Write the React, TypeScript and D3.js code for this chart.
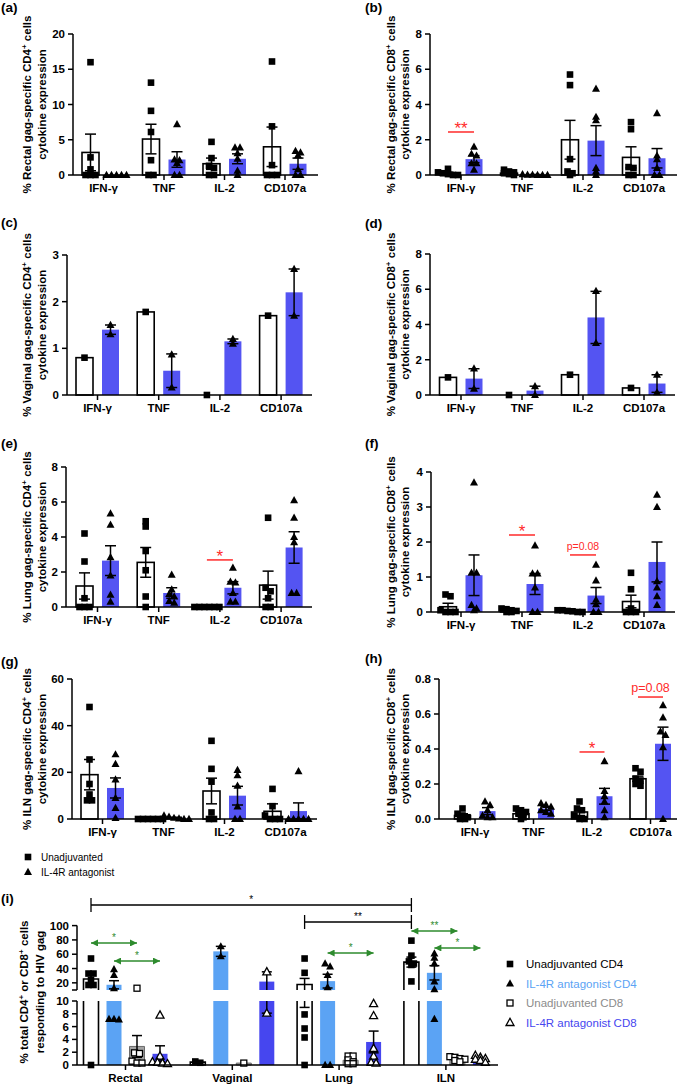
import React from "react";
import * as d3 from "d3";

// ---------------- categories ----------------
const cytokines = ["IFN-γ", "TNF", "IL-2", "CD107a"];
const tissues = ["Rectal", "Vaginal", "Lung", "ILN"];

// ---------------- data: panels (a)-(h) ----------------
// each: mean, sem and individual animals per cytokine
const rectalCD4Unadj = { mean: [3.2, 5.1, 1.6, 4.0], sem: [2.6, 2.1, 0.8, 2.8], pts: [[16, 2.5, 0.8, 0, 0, 0], [13.1, 9.1, 6.1, 2.1, 0, 0], [4.7, 2.4, 1.3, 1.0, 0, 0], [16.1, 6.9, 1.4, 0, 0, 0]] };
const rectalCD4Il4r = { mean: [0, 2.2, 2.3, 1.6], sem: [0, 1.1, 0.7, 0.8], pts: [[0, 0, 0, 0, 0], [7.2, 2.2, 2.1, 1.7, 0, 0], [3.9, 3.9, 3.1, 2.3, 0.6, 0], [3.4, 3.2, 2.8, 0.8, 0, 0]] };

const rectalCD8Unadj = { mean: [0.1, 0.1, 2.0, 1.0], sem: [0.06, 0.05, 1.1, 0.6], pts: [[0.35, 0.15, 0.1, 0.05, 0, 0], [0.3, 0.2, 0.15, 0.1, 0.05, 0], [5.7, 5.1, 0.9, 0.2, 0.1, 0], [3.0, 2.6, 0.45, 0.4, 0, 0]] };
const rectalCD8Il4r = { mean: [0.9, 0.02, 1.95, 0.95], sem: [0.2, 0.01, 0.85, 0.55], pts: [[1.6, 1.2, 1.1, 0.66, 0.66, 0.3], [0.04, 0.02, 0.02, 0, 0, 0], [4.9, 3.3, 3.1, 0.4, 0.2, 0], [3.5, 1.1, 0.9, 0.4, 0, 0]] };

const vaginalCD4Unadj = { mean: [0.8, 1.78, 0, 1.7], sem: [0, 0, 0, 0], pts: [[0.8], [1.78], [0], [1.7]] };
const vaginalCD4Il4r = { mean: [1.4, 0.52, 1.15, 2.2], sem: [0.1, 0.36, 0.05, 0.5], pts: [[1.5, 1.3], [0.87, 0.16], [1.2, 1.1], [2.7, 1.7]] };

const vaginalCD8Unadj = { mean: [1.0, 0, 1.15, 0.4], sem: [0, 0, 0, 0], pts: [[1.0], [0], [1.15], [0.4]] };
const vaginalCD8Il4r = { mean: [0.93, 0.25, 4.4, 0.65], sem: [0.56, 0.25, 1.48, 0.5], pts: [[1.5, 0.36], [0.5, 0], [5.9, 2.95], [1.15, 0.15]] };

const lungCD4Unadj = { mean: [1.2, 2.55, 0, 1.25], sem: [0.75, 0.85, 0, 0.8], pts: [[4.2, 2.6, 0.5, 0, 0, 0], [4.9, 4.6, 3.2, 2.1, 0.6, 0], [0, 0, 0, 0, 0, 0], [5.1, 1.1, 0.9, 0.5, 0, 0]] };
const lungCD4Il4r = { mean: [2.65, 0.8, 1.1, 3.4], sem: [0.85, 0.3, 0.35, 0.9], pts: [[5.35, 4.7, 2.85, 1.8, 0.7, 0.3], [1.85, 1.0, 0.75, 0.6, 0.35, 0.25], [2.25, 1.45, 1.4, 0.8, 0.3, 0.3], [6.1, 5.1, 4.0, 3.7, 0.8, 0.8]] };

const lungCD8Unadj = { mean: [0.15, 0.05, 0.03, 0.3], sem: [0.1, 0.02, 0.01, 0.18], pts: [[0.5, 0.45, 0.05, 0, 0, 0], [0.1, 0.08, 0.05, 0.03, 0, 0], [0.05, 0.05, 0.03, 0.02, 0, 0], [1.12, 0.65, 0.1, 0, 0, 0]] };
const lungCD8Il4r = { mean: [1.05, 0.8, 0.47, 1.43], sem: [0.58, 0.3, 0.23, 0.57], pts: [[3.7, 1.12, 1.12, 0.2, 0.1, 0.05], [1.9, 1.1, 1.1, 0.7, 0, 0], [1.35, 0.9, 0.35, 0.22, 0, 0], [3.35, 3.0, 0.88, 0.7, 0.45, 0.2]] };

const ilnCD4Unadj = { mean: [19, 0, 12, 3.3], sem: [6.5, 0, 5.5, 3.2], pts: [[48, 25.5, 15, 10.5, 8, 8], [0, 0, 0, 0, 0, 0], [33.5, 21.5, 16, 2.8, 0, 0], [12.9, 5.5, 1.5, 0, 0, 0]] };
const ilnCD4Il4r = { mean: [13.3, 0.5, 10, 3.4], sem: [4.3, 0.25, 4, 3.5], pts: [[27.7, 23.6, 16.9, 9, 4.7, 0.4], [1.5, 1.0, 0.5, 0.2, 0, 0], [21, 18.7, 14.3, 5.4, 0, 0], [20.5, 0, 0, 0, 0, 0]] };

const ilnCD8Unadj = { mean: [0.02, 0.03, 0.04, 0.23], sem: [0.01, 0.01, 0.02, 0.015], pts: [[0.06, 0.03, 0.02, 0.01, 0, 0], [0.06, 0.05, 0.04, 0.03, 0.01, 0], [0.1, 0.06, 0.05, 0.02, 0, 0], [0.29, 0.27, 0.23, 0.22, 0.2, 0.19]] };
const ilnCD8Il4r = { mean: [0.045, 0.06, 0.13, 0.43], sem: [0.02, 0.01, 0.045, 0.095], pts: [[0.1, 0.08, 0.05, 0.02, 0.01, 0.01], [0.09, 0.08, 0.07, 0.05, 0.04, 0.03], [0.33, 0.16, 0.13, 0.1, 0.05, 0.01], [0.65, 0.58, 0.5, 0.48, 0.41, 0.0]] };

// significance annotations (category, level of the line in data units, label)
const sigB = [{ cat: "IFN-γ", level: 2.44, label: "**" }];
const sigE = [{ cat: "IL-2", level: 2.69, label: "*" }];
const sigF = [{ cat: "TNF", level: 2.2, label: "*" }, { cat: "IL-2", level: 1.63, label: "p=0.08" }];
const sigH = [{ cat: "IL-2", level: 0.383, label: "*" }, { cat: "CD107a", level: 0.697, label: "p=0.08" }];

// ---------------- data: panel (i) ----------------
const groupsI = ["Unadjuvanted CD4", "IL-4R antagonist CD4", "Unadjuvanted CD8", "IL-4R antagonist CD8"];
const iUnadjCD4 = { mean: [25.4, 0.45, 17.6, 49], sem: [7, 0.1, 8.6, 7], pts: [[54, 33, 33, 24, 17, 17, 0], [0.55, 0.35], [54, 34, 7.9, 5.7, 4.3, 0], [79, 58, 50, 47, 45, 22]] };
const iIl4rCD4 = { mean: [17.3, 64, 22.4, 34], sem: [5.7, 7, 9.6, 10], pts: [[39, 31, 12.5, 7.2, 7.1, 7.2], [71, 57], [47, 43, 31, 14, 0, 0], [61, 55, 47, 22, 11, 7.2]] };
const iUnadjCD8 = { mean: [2.9, 0.3, 0.75, 1.0], sem: [1.7, 0, 0.25, 0.15], pts: [[12.5, 1.9, 1.8, 0.6, 0.3, 0.3], [0.3], [1.4, 1.4, 0.8, 0.5, 0.2, 0.2], [1.3, 1.2, 1.0, 0.9, 0.7, 0.5]] };
const iIl4rCD8 = { mean: [1.75, 21.75, 3.6, 1.0], sem: [1.25, 13.65, 1.7, 0.15], pts: [[7.8, 1.4, 0.5, 0.4, 0.3, 0.2], [35.4, 8.1], [9.6, 7.7, 2.6, 1.4, 0.4, 0.3], [1.5, 1.2, 1.0, 0.9, 0.7, 0.4]] };
const yTicksITop = [20, 40, 60, 80, 100];
const yTicksIBottom = [0, 2, 4, 6, 8, 10];
const bracketsI = [
  { from: ["Rectal", 0], to: ["ILN", 0], level: 128.8, label: "*" },
  { from: ["Lung", 0], to: ["ILN", 0], level: 105, label: "**" },
];
const arrowsI = [
  { from: ["ILN", 0], to: ["ILN", 2], level: 92.4, label: "**" },
  { from: ["ILN", 1], to: ["ILN", 3], level: 68.7, label: "*" },
  { from: ["Rectal", 0], to: ["Rectal", 2], level: 75.7, label: "*" },
  { from: ["Rectal", 1], to: ["Rectal", 3], level: 50.5, label: "*" },
  { from: ["Lung", 1], to: ["Lung", 3], level: 61.7, label: "*" },
];

// ---------------- styles ----------------
const FONT = "Arial, 'Liberation Sans', Helvetica, sans-serif";
const BLUE = "#5454f2";
const LIGHTBLUE = "#5ba3f4";
const DARKBLUE = "#4646ef";
const GREY = "#a3a3a3";
const RED = "#ff2a2a";
const GREEN = "#2e8b2e";
const TITLE_SIZE = 11.5;

type Series = { mean: number[]; sem: number[]; pts: number[][] };
type Sig = { cat: string; level: number; label: string };

type PanelCfg = {
  label: string; lx: number; ly: number;
  tissue: string; cell: string;
  unadj: Series; il4r: Series;
  max: number; ticks: number[]; fmt?: (v: number) => string;
  x0: number; x1: number; c0: number; step: number; off: number; bw: number;
  yTop: number; y0: number; t1: number; t2: number;
  sigs: Sig[]; pFont?: number;
};

const panels: PanelCfg[] = [
  { label: "(a)", lx: 1, ly: 12, tissue: "Rectal", cell: "CD4", unadj: rectalCD4Unadj, il4r: rectalCD4Il4r, max: 20, ticks: [0, 5, 10, 15, 20], x0: 73, x1: 318, c0: 103.5, step: 60.5, off: 13, bw: 17, yTop: 34, y0: 175, t1: 27, t2: 42, sigs: [] },
  { label: "(b)", lx: 365, ly: 12, tissue: "Rectal", cell: "CD8", unadj: rectalCD8Unadj, il4r: rectalCD8Il4r, max: 8, ticks: [0, 2, 4, 6, 8], x0: 430, x1: 677, c0: 461, step: 61, off: 13, bw: 17, yTop: 34, y0: 175, t1: 391, t2: 405, sigs: sigB },
  { label: "(c)", lx: 1, ly: 227, tissue: "Vaginal", cell: "CD4", unadj: vaginalCD4Unadj, il4r: vaginalCD4Il4r, max: 3, ticks: [0, 1, 2, 3], x0: 67, x1: 312, c0: 97.5, step: 61.2, off: 13, bw: 17, yTop: 255, y0: 395, t1: 27, t2: 42, sigs: [] },
  { label: "(d)", lx: 365, ly: 228, tissue: "Vaginal", cell: "CD8", unadj: vaginalCD8Unadj, il4r: vaginalCD8Il4r, max: 8, ticks: [0, 2, 4, 6, 8], x0: 430, x1: 675, c0: 461, step: 61, off: 13, bw: 17, yTop: 254, y0: 395, t1: 391, t2: 405, sigs: [] },
  { label: "(e)", lx: 1, ly: 448, tissue: "Lung", cell: "CD4", unadj: lungCD4Unadj, il4r: lungCD4Il4r, max: 8, ticks: [0, 2, 4, 6, 8], x0: 66, x1: 312, c0: 97.5, step: 61.2, off: 13, bw: 17, yTop: 467, y0: 607, t1: 27, t2: 42, sigs: sigE },
  { label: "(f)", lx: 365, ly: 448, tissue: "Lung", cell: "CD8", unadj: lungCD8Unadj, il4r: lungCD8Il4r, max: 4, ticks: [0, 1, 2, 3, 4], x0: 431, x1: 675, c0: 461, step: 61, off: 13, bw: 17, yTop: 472, y0: 612, t1: 391, t2: 405, sigs: sigF, pFont: 10.5 },
  { label: "(g)", lx: 1, ly: 666, tissue: "ILN", cell: "CD4", unadj: ilnCD4Unadj, il4r: ilnCD4Il4r, max: 60, ticks: [0, 20, 40, 60], x0: 72, x1: 317, c0: 102.5, step: 61, off: 13, bw: 17, yTop: 679, y0: 819, t1: 27, t2: 42, sigs: [] },
  { label: "(h)", lx: 365, ly: 663, tissue: "ILN", cell: "CD8", unadj: ilnCD8Unadj, il4r: ilnCD8Il4r, max: 0.8, ticks: [0, 0.2, 0.4, 0.6, 0.8], fmt: d3.format(".1f"), x0: 439, x1: 677, c0: 475, step: 58.5, off: 12.5, bw: 16, yTop: 679, y0: 819, t1: 391, t2: 405, sigs: sigH, pFont: 12.5 },
];

// ---------------- helpers ----------------
function spread(vals: number[], y: (v: number) => number, tol: number, s: number) {
  const sorted = vals.map((v) => ({ v, py: y(v) })).sort((a, b) => a.py - b.py);
  const rows: { v: number; py: number }[][] = [];
  for (const p of sorted) {
    const last = rows[rows.length - 1];
    if (last && Math.abs(p.py - last[0].py) <= tol) last.push(p);
    else rows.push([p]);
  }
  const out: { v: number; py: number; dx: number }[] = [];
  rows.forEach((r) => r.forEach((p, i) => out.push({ ...p, dx: (i - (r.length - 1) / 2) * s })));
  return out;
}

function Mark({ shape, x, y, open }: { shape: string; x: number; y: number; open?: boolean }) {
  const fill = open ? "#fff" : "#000";
  const sw = open ? 1.3 : 0;
  if (shape === "sq") {
    const h = open ? 3 : 3.3;
    return <rect x={x - h} y={y - h} width={2 * h} height={2 * h} fill={fill} stroke="#000" strokeWidth={sw} />;
  }
  return <path d={`M${x},${y - 4.2}L${x + 4},${y + 3}L${x - 4},${y + 3}Z`} fill={fill} stroke="#000" strokeWidth={sw} />;
}

function ErrBar({ x, yLo, yHi, w }: { x: number; yLo: number; yHi: number; w: number }) {
  return (
    <g stroke="#000" strokeWidth={1.5}>
      <line x1={x} x2={x} y1={yLo} y2={yHi} />
      <line x1={x - w / 2} x2={x + w / 2} y1={yHi} y2={yHi} />
      <line x1={x - w / 2} x2={x + w / 2} y1={yLo} y2={yLo} />
    </g>
  );
}

function supText(s: string) {
  const segs = s.split("⁺");
  const out: any[] = [];
  segs.forEach((seg, i) => {
    if (i > 0) {
      out.push(<tspan key={"s" + i} dy={-4.5} fontSize="0.7em">+</tspan>);
      out.push(<tspan key={"t" + i} dy={4.5}>{seg}</tspan>);
    } else out.push(<tspan key="t0">{seg}</tspan>);
  });
  return out;
}

function YTitle({ x1, x2, cy, line1, line2, size = TITLE_SIZE }: { x1: number; x2: number; cy: number; line1: string; line2: string; size?: number }) {
  return (
    <g fontWeight="bold" fontSize={size} textAnchor="middle">
      <text transform={`translate(${x1},${cy}) rotate(-90)`} dy="0.35em">{supText(line1)}</text>
      <text transform={`translate(${x2},${cy}) rotate(-90)`} dy="0.35em">{line2}</text>
    </g>
  );
}

// ---------------- panels (a)-(h) ----------------
function CytoPanel({ p }: { p: PanelCfg }) {
  const x = d3.scalePoint<string>().domain(cytokines).range([p.c0, p.c0 + 3 * p.step]);
  const y = d3.scaleLinear().domain([0, p.max]).range([p.y0, p.yTop]);
  const fmt = p.fmt || ((v: number) => String(v));
  const groups = [
    { s: p.unadj, dx: -p.off, fill: "#fff", stroke: "#000", shape: "sq" },
    { s: p.il4r, dx: p.off, fill: BLUE, stroke: "none", shape: "tri" },
  ];
  const cy = (p.y0 + p.yTop) / 2;
  return (
    <g>
      <text x={p.lx} y={p.ly} fontWeight="bold" fontSize={13.5}>{p.label}</text>
      <YTitle x1={p.t1} x2={p.t2} cy={cy} line1={`% ${p.tissue} gag-specific ${p.cell}⁺ cells`} line2="cytokine expression" />
      {groups.map((g, gi) =>
        cytokines.map((c, ci) => {
          const cx = (x(c) as number) + g.dx;
          const top = y(g.s.mean[ci]);
          return (
            <rect key={`b${gi}${ci}`} x={cx - p.bw / 2} y={top} width={p.bw} height={Math.max(0, p.y0 - top)}
              fill={g.fill} stroke={g.stroke} strokeWidth={g.stroke === "none" ? 0 : 1.6} />
          );
        })
      )}
      {groups.map((g, gi) =>
        cytokines.map((c, ci) => {
          const cx = (x(c) as number) + g.dx;
          const m = g.s.mean[ci];
          const s = g.s.sem[ci];
          if (!s) return null;
          return <ErrBar key={`e${gi}${ci}`} x={cx} yLo={y(Math.max(0, m - s))} yHi={y(m + s)} w={11} />;
        })
      )}
      {groups.map((g, gi) =>
        cytokines.map((c, ci) => {
          const cx = (x(c) as number) + g.dx;
          return spread(g.s.pts[ci], y, 3.5, 5).map((pt, k) => (
            <Mark key={`m${gi}${ci}${k}`} shape={g.shape} x={cx + pt.dx} y={pt.py} />
          ));
        })
      )}
      {/* significance */}
      {p.sigs.map((sg, k) => {
        const cx = x(sg.cat) as number;
        const ly = y(sg.level);
        const isStar = sg.label.startsWith("*");
        return (
          <g key={`s${k}`}>
            <line x1={cx - p.off} x2={cx + p.off} y1={ly} y2={ly} stroke={RED} strokeWidth={1.5} />
            <text x={cx} y={isStar ? ly + 2 : ly - 5} textAnchor="middle" fill={RED}
              fontSize={isStar ? 17 : p.pFont || 11}>{sg.label}</text>
          </g>
        );
      })}
      {/* y axis */}
      <line x1={p.x0} x2={p.x0} y1={p.y0} y2={p.yTop} stroke="#000" strokeWidth={1.5} />
      {p.ticks.map((t) => (
        <g key={`yt${t}`}>
          <line x1={p.x0 - 5} x2={p.x0} y1={y(t)} y2={y(t)} stroke="#000" strokeWidth={1.5} />
          <text x={p.x0 - 8} y={y(t)} dy="0.35em" textAnchor="end" fontWeight="bold" fontSize={11.5}>{fmt(t)}</text>
        </g>
      ))}
      {/* x axis */}
      <line x1={p.x0} x2={p.x1} y1={p.y0} y2={p.y0} stroke="#000" strokeWidth={1.5} />
      {cytokines.map((c) => (
        <g key={`xt${c}`}>
          <line x1={x(c) as number} x2={x(c) as number} y1={p.y0} y2={p.y0 + 5} stroke="#000" strokeWidth={1.5} />
          <text x={x(c) as number} y={p.y0 + 17} textAnchor="middle" fontWeight="bold" fontSize={11.5}>{c}</text>
        </g>
      ))}
    </g>
  );
}

// ---------------- panel (i) ----------------
function PanelI() {
  const x = d3.scalePoint<string>().domain(tissues).range([125.5, 125.5 + 3 * 106.8]);
  const off = d3.scalePoint<number>().domain([0, 1, 2, 3]).range([-34.5, 34.5]);
  const yT = d3.scaleLinear().domain([10, 100]).range([990, 925.6]);
  const yB = d3.scaleLinear().domain([0, 10]).range([1065, 1001]);
  const yv = (v: number) => (v > 10 ? yT(v) : yB(v));
  const bw = 15;
  const series = [
    { s: iUnadjCD4, fill: "#fff", stroke: "#000", shape: "sq", open: false },
    { s: iIl4rCD4, fill: LIGHTBLUE, stroke: "none", shape: "tri", open: false },
    { s: iUnadjCD8, fill: GREY, stroke: "#6b6b6b", shape: "sq", open: true },
    { s: iIl4rCD8, fill: DARKBLUE, stroke: "none", shape: "tri", open: true },
  ];
  const legendColors = ["#000", LIGHTBLUE, "#8c8c8c", DARKBLUE];
  const gx = (t: string, gi: number) => (x(t) as number) + (off(gi) as number);
  const x0 = 77;
  return (
    <g>
      <defs>
        <marker id="arrG" viewBox="0 0 10 10" refX="10" refY="5" markerWidth="8" markerHeight="7"
          markerUnits="userSpaceOnUse" orient="auto-start-reverse">
          <path d="M0,0L10,5L0,10Z" fill={GREEN} />
        </marker>
      </defs>
      <text x={1} y={903} fontWeight="bold" fontSize={13.5}>(i)</text>
      <YTitle x1={24} x2={40} cy={992} line1="% total CD4⁺ or CD8⁺ cells" line2="responding to HIV gag" />
      {/* bars */}
      {series.map((g, gi) =>
        tissues.map((t, ti) => {
          const cx = gx(t, gi);
          const l = cx - bw / 2, r = cx + bw / 2;
          const m = g.s.mean[ti];
          const parts: any[] = [];
          const white = g.fill === "#fff";
          if (m <= 10) {
            const top = yB(m);
            parts.push(<path key="a" d={`M${l},1065V${top}H${r}V1065Z`} fill={g.fill} stroke={g.stroke}
              strokeWidth={g.stroke === "none" ? 0 : white ? 1.6 : 1} />);
          } else {
            const top = yT(m);
            parts.push(<rect key="f1" x={l} y={1001} width={bw} height={64} fill={g.fill} />);
            parts.push(<rect key="f2" x={l} y={top} width={bw} height={990 - top} fill={g.fill} />);
            if (g.stroke !== "none") {
              parts.push(<path key="s1" d={`M${l},1065V1001M${r},1001V1065`} fill="none" stroke={g.stroke} strokeWidth={white ? 1.6 : 1} />);
              parts.push(<path key="s2" d={`M${l},990V${top}H${r}V990`} fill="none" stroke={g.stroke} strokeWidth={white ? 1.6 : 1} />);
            }
          }
          return <g key={`ib${gi}${ti}`}>{parts}</g>;
        })
      )}
      {/* error bars */}
      {series.map((g, gi) =>
        tissues.map((t, ti) => {
          const cx = gx(t, gi);
          const m = g.s.mean[ti], s = g.s.sem[ti];
          if (!s) return null;
          const lo = Math.max(0, m - s), hi = m + s;
          const w = 10;
          return (
            <g key={`ie${gi}${ti}`} stroke="#000" strokeWidth={1.5}>
              {lo < 10 && hi > 10 ? (
                <>
                  <line x1={cx} x2={cx} y1={yB(lo)} y2={1001} />
                  <line x1={cx} x2={cx} y1={990} y2={yT(hi)} />
                </>
              ) : (
                <line x1={cx} x2={cx} y1={yv(lo)} y2={yv(hi)} />
              )}
              <line x1={cx - w / 2} x2={cx + w / 2} y1={yv(hi)} y2={yv(hi)} />
              <line x1={cx - w / 2} x2={cx + w / 2} y1={yv(lo)} y2={yv(lo)} />
            </g>
          );
        })
      )}
      {/* points */}
      {series.map((g, gi) =>
        tissues.map((t, ti) => {
          const cx = gx(t, gi);
          return spread(g.s.pts[ti], yv, 3.5, 5).map((pt, k) => (
            <Mark key={`im${gi}${ti}${k}`} shape={g.shape} x={cx + pt.dx} y={pt.py} open={g.open} />
          ));
        })
      )}
      {/* brackets */}
      {bracketsI.map((b, k) => {
        const xa = gx(b.from[0] as string, b.from[1] as number);
        const xb = gx(b.to[0] as string, b.to[1] as number);
        const ly = yT(b.level);
        return (
          <g key={`br${k}`}>
            <path d={`M${xa},${ly - 7}V${ly + 7}M${xa},${ly}H${xb}M${xb},${ly - 7}V${ly + 7}`} stroke="#000" strokeWidth={1.3} fill="none" />
            <text x={(xa + xb) / 2} y={ly - 2} textAnchor="middle" fontSize={10}>{b.label}</text>
          </g>
        );
      })}
      {arrowsI.map((a, k) => {
        const xa = gx(a.from[0] as string, a.from[1] as number);
        const xb = gx(a.to[0] as string, a.to[1] as number);
        const ly = yT(a.level);
        return (
          <g key={`ar${k}`}>
            <line x1={xa} x2={xb} y1={ly} y2={ly} stroke={GREEN} strokeWidth={1.5} markerStart="url(#arrG)" markerEnd="url(#arrG)" />
            <text x={(xa + xb) / 2} y={ly - 2} textAnchor="middle" fontSize={10} fill={GREEN}>{a.label}</text>
          </g>
        );
      })}
      {/* y axis (broken) */}
      <line x1={x0} x2={x0} y1={990} y2={yT(100)} stroke="#000" strokeWidth={1.5} />
      <line x1={x0} x2={x0} y1={1065} y2={1001} stroke="#000" strokeWidth={1.5} />
      <line x1={x0 - 5} x2={x0} y1={990} y2={990} stroke="#000" strokeWidth={1.5} />
      {yTicksITop.map((t) => (
        <g key={`it${t}`}>
          <line x1={x0 - 5} x2={x0} y1={yT(t)} y2={yT(t)} stroke="#000" strokeWidth={1.5} />
          <text x={x0 - 8} y={yT(t)} dy="0.35em" textAnchor="end" fontWeight="bold" fontSize={11.5}>{t}</text>
        </g>
      ))}
      {yTicksIBottom.map((t) => (
        <g key={`ib${t}`}>
          <line x1={x0 - 5} x2={x0} y1={yB(t)} y2={yB(t)} stroke="#000" strokeWidth={1.5} />
          <text x={x0 - 8} y={yB(t)} dy="0.35em" textAnchor="end" fontWeight="bold" fontSize={11.5}>{t}</text>
        </g>
      ))}
      {/* x axis */}
      <line x1={x0} x2={498} y1={1065} y2={1065} stroke="#000" strokeWidth={1.5} />
      {tissues.map((t) => (
        <g key={`ix${t}`}>
          <line x1={x(t) as number} x2={x(t) as number} y1={1065} y2={1070} stroke="#000" strokeWidth={1.5} />
          <text x={x(t) as number} y={1082} textAnchor="middle" fontWeight="bold" fontSize={11.5}>{t}</text>
        </g>
      ))}
      {/* legend */}
      {groupsI.map((name, gi) => (
        <g key={`lg${gi}`}>
          <Mark shape={series[gi].shape} x={510} y={964 + gi * 19.5} open={series[gi].open} />
          <text x={526} y={964 + gi * 19.5} dy="0.35em" fontSize={11.5} fill={legendColors[gi]}>{name}</text>
        </g>
      ))}
    </g>
  );
}

export default function App() {
  return (
    <svg width={685} height={1086} viewBox="0 0 685 1086" fontFamily={FONT}
      style={{ position: "absolute", left: 0, top: 0, background: "#fff" }}>
      <rect width={685} height={1086} fill="#fff" />
      {panels.map((p) => <CytoPanel key={p.label} p={p} />)}
      {/* legend for (a)-(h) */}
      <Mark shape="sq" x={28} y={857} />
      <text x={41} y={857} dy="0.35em" fontSize={10}>Unadjuvanted</text>
      <Mark shape="tri" x={28} y={872} />
      <text x={41} y={872} dy="0.35em" fontSize={10}>IL-4R antagonist</text>
      <PanelI />
    </svg>
  );
}
